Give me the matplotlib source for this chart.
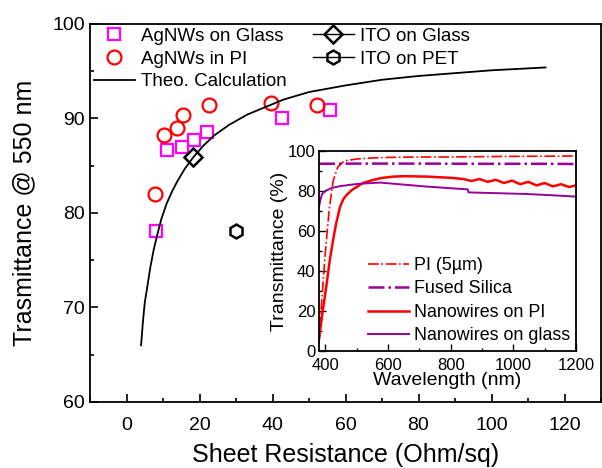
import matplotlib
matplotlib.use('Agg')
import matplotlib.pyplot as plt
from matplotlib.ticker import MultipleLocator

plt.rcParams['font.family'] = ['Liberation Sans', 'DejaVu Sans']

# main panel data
glass_rs = [8.2, 11.1, 15.1, 18.6, 22.1, 42.7, 55.7]
glass_t = [78.1, 86.7, 87.0, 87.7, 88.6, 90.0, 90.9]
pi_rs = [7.7, 10.2, 13.7, 15.4, 22.6, 39.5, 52.1]
pi_t = [82.0, 88.3, 89.0, 90.4, 91.4, 91.6, 91.4]
ito_glass_rs = [18.3]
ito_glass_t = [85.9]
ito_pet_rs = [30.0]
ito_pet_t = [78.1]
theo_rs = [4.0, 4.5, 5.0, 5.7, 6.5, 7.5, 8.5, 9.5, 11, 12.5, 14, 16, 18.3, 21, 24,
           28, 33, 38, 43, 50, 60, 70, 80, 90, 100, 114.8]
theo_t = [66.0, 68.5, 70.5, 72.2, 74.2, 76.2, 77.8, 79.3, 81.0, 82.3, 83.4, 84.7,
          85.9, 87.1, 88.2, 89.3, 90.4, 91.2, 92.0, 92.8, 93.5, 94.1, 94.5, 94.8,
          95.1, 95.4]

# inset spectra
pi_film_wl = [380, 383, 390, 399, 412, 425, 440, 460, 500, 550, 600, 700, 800, 900,
              1000, 1100, 1200]
pi_film_t = [3, 12, 28, 47, 70, 85, 92, 95, 96, 96.5, 96.8, 97, 97, 97.2, 97.3, 97.4, 97.5]
silica_wl = [380, 500, 700, 900, 1100, 1200]
silica_t = [93.6, 93.7, 93.7, 93.6, 93.6, 93.5]
nw_pi_wl = [380, 390, 403, 415, 425, 435, 447, 458, 468, 485, 500, 520, 552, 580, 617,
            650, 690, 724, 760, 800, 840, 866, 892, 918, 944, 970, 996, 1022, 1048,
            1074, 1100, 1126, 1152, 1178, 1200]
nw_pi_t = [6, 18, 32, 46, 55.5, 64, 72, 76, 78, 80.5, 82, 84, 85.5, 86.5, 87.2, 87.4,
           87.3, 87.2, 86.9, 86.6, 86.0, 85.0, 86.0, 84.6, 85.6, 84.0, 85.2, 83.4, 84.6,
           82.8, 84.0, 82.3, 83.4, 82.0, 82.8]
nw_glass_wl = [380, 385, 390, 400, 420, 450, 500, 550, 575, 650, 724, 800, 855, 857,
               950, 1043, 1120, 1200]
nw_glass_t = [72, 76, 78.5, 80, 81.5, 82.5, 83.5, 84, 84.2, 83.2, 82.2, 81.4, 80.8, 79.3,
              78.9, 78.5, 77.9, 77.2]

purple = '#990099'

fig = plt.figure(figsize=(6.02, 4.68), dpi=100)
ax = fig.add_axes([90 / 602, 1 - 402 / 468, 511 / 602, 378 / 468])

ax.plot(glass_rs, glass_t, 's', ls='none', mfc='none', mec='#ff00ff', ms=8.5, mew=1.6,
        label='AgNWs on Glass')
ax.plot(pi_rs, pi_t, 'o', ls='none', mfc='none', mec='red', ms=10, mew=1.6,
        label='AgNWs in PI')
ax.plot(theo_rs, theo_t, '-', color='black', lw=1.3, label='Theo. Calculation')
ax.plot(ito_glass_rs, ito_glass_t, 'D', ls='-', color='black', mfc='none', ms=9, mew=1.8,
        lw=1, label='ITO on Glass')
ax.plot(ito_pet_rs, ito_pet_t, 'h', ls='-', color='black', mfc='none', ms=10, mew=1.8,
        lw=1, label='ITO on PET')

ax.set_xlim(-10, 130)
ax.set_ylim(60, 100)
ax.xaxis.set_major_locator(MultipleLocator(20))
ax.xaxis.set_minor_locator(MultipleLocator(10))
ax.yaxis.set_major_locator(MultipleLocator(10))
ax.yaxis.set_minor_locator(MultipleLocator(5))
ax.tick_params(which='both', direction='in', top=False, right=False, labelsize=14,
               width=1.2)
ax.tick_params(which='major', length=6)
ax.tick_params(which='minor', length=3)
ax.tick_params(axis='x', pad=11)
for s in ax.spines.values():
    s.set_linewidth(1.3)
ax.set_xlabel('Sheet Resistance (Ohm/sq)', fontsize=18, labelpad=6)
ax.set_ylabel('Trasmittance @ 550 nm', fontsize=18, labelpad=12)

ax.legend(loc='upper left', bbox_to_anchor=(0.0, 1.0), ncol=2, frameon=False,
          fontsize=13.5, numpoints=1, handlelength=2.2, handletextpad=0.3,
          columnspacing=1.4, labelspacing=0.3, borderpad=0.2, borderaxespad=0)

# inset
ins = fig.add_axes([319 / 602, 1 - 351 / 468, 257 / 602, 200 / 468])
ins.plot(pi_film_wl, pi_film_t, '-.', color='red', lw=1.2, label='PI (5\u00b5m)')
ins.plot(silica_wl, silica_t, '-.', color=purple, lw=1.8, label='Fused Silica')
ins.plot(nw_pi_wl, nw_pi_t, '-', color='red', lw=1.8, label='Nanowires on PI')
ins.plot(nw_glass_wl, nw_glass_t, '-', color=purple, lw=1.4, label='Nanowires on glass')
ins.set_xlim(380, 1200)
ins.set_ylim(0, 100)
ins.xaxis.set_major_locator(MultipleLocator(200))
ins.xaxis.set_minor_locator(MultipleLocator(100))
ins.yaxis.set_major_locator(MultipleLocator(20))
ins.yaxis.set_minor_locator(MultipleLocator(10))
ins.tick_params(which='both', direction='in', top=False, right=False, labelsize=12,
                width=1, pad=2.5)
ins.tick_params(axis='x', pad=5)
ins.tick_params(which='major', length=5)
ins.tick_params(which='minor', length=2.5)
for s in ins.spines.values():
    s.set_linewidth(1.3)
ins.set_xlabel('Wavelength (nm)', fontsize=14, labelpad=-1)
ins.set_ylabel('Transmittance (%)', fontsize=14, labelpad=0)
ins.legend(loc='upper left', bbox_to_anchor=(0.19, 0.47), frameon=False, fontsize=12.9,
           handlelength=2.3, handletextpad=0.3, labelspacing=0.36, borderpad=0,
           borderaxespad=0)

fig.savefig('out.png', dpi=100)
